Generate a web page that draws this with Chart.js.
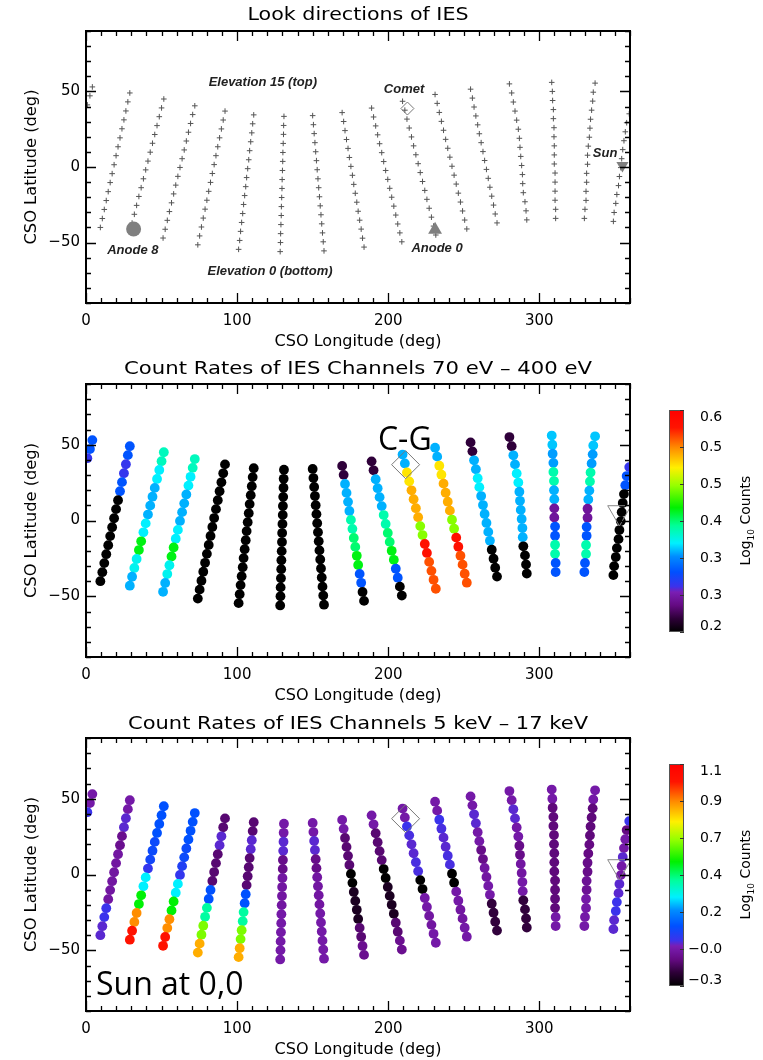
<!DOCTYPE html>
<html>
<head>
<meta charset="utf-8">
<script src="https://cdn.jsdelivr.net/npm/chart.js@4.4.1/dist/chart.umd.min.js"></script>
<style>
  body { margin: 0; background: #fff; width: 763px; height: 1060px; overflow: hidden; position: relative; }
  canvas { position: absolute; left: 0; }
</style>
</head>
<body>
<canvas id="look" width="763" height="353" style="top:0"></canvas>
<canvas id="low" width="763" height="353" style="top:354px"></canvas>
<canvas id="high" width="763" height="353" style="top:707px"></canvas>
<script>
// axes
const xTicks = [0, 100, 200, 300];
const yTicks = [-50, 0, 50];
const yTickLabels = ['\u221250', '0', '50'];

// look directions, one row per anode line (left to right), 16 elevations top -> bottom
const anodeLon = [
  [4.2, 2.6, 0.9, 359.5, 357.8, 356.9, 356.0, 355.2, 354.5, 353.9, 353.0, 352.4, 351.3, 350.6, 349.5, 349.0],
  [29, 27.7, 26.4, 25.1, 23.8, 22.5, 21.2, 19.9, 18.6, 17.3, 16, 14.7, 13.4, 12.1, 10.8, 9.5],
  [51.5, 50, 48.5, 47, 45.5, 44, 42.5, 41, 39.5, 38, 36.5, 35, 33.5, 32, 30.5, 29],
  [72, 70.6, 69.2, 67.8, 66.4, 65, 63.6, 62.2, 60.8, 59.4, 58, 56.6, 55.2, 53.8, 52.4, 51],
  [92, 90.8, 89.6, 88.4, 87.2, 86, 84.8, 83.6, 82.4, 81.2, 80, 78.8, 77.6, 76.4, 75.2, 74],
  [111, 110.3, 109.7, 109, 108.3, 107.7, 107, 106.3, 105.7, 105, 104.3, 103.7, 103, 102.3, 101.7, 101],
  [131, 130.8, 130.7, 130.5, 130.3, 130.2, 130, 129.8, 129.7, 129.5, 129.3, 129.2, 129, 128.8, 128.7, 128.5],
  [150, 150.5, 151, 151.5, 152, 152.5, 153, 153.5, 154, 154.5, 155, 155.5, 156, 156.5, 157, 157.5],
  [169.5, 170.5, 171.4, 172.4, 173.4, 174.3, 175.3, 176.3, 177.2, 178.2, 179.2, 180.1, 181.1, 182.1, 183, 184],
  [189, 190.3, 191.7, 193, 194.3, 195.7, 197, 198.3, 199.7, 201, 202.3, 203.7, 205, 206.3, 207.7, 209],
  [209.5, 211, 212.4, 213.9, 215.4, 216.8, 218.3, 219.8, 221.2, 222.7, 224.2, 225.6, 227.1, 228.6, 230, 231.5],
  [231, 232.4, 233.8, 235.2, 236.6, 238, 239.4, 240.8, 242.2, 243.6, 245, 246.4, 247.8, 249.2, 250.6, 252],
  [254.5, 255.7, 256.8, 258, 259.2, 260.3, 261.5, 262.7, 263.8, 265, 266.2, 267.3, 268.5, 269.7, 270.8, 272],
  [280.2, 281.7, 282.8, 283.9, 285, 286.1, 286.8, 287.2, 287.7, 288.3, 288.8, 289, 289.4, 290.5, 291.2, 291.7],
  [308.2, 308.6, 308.8, 309.3, 309.3, 309.7, 309.7, 309.9, 309.9, 309.9, 310.4, 310.4, 310.4, 310.4, 310.8, 310.8],
  [336.9, 335.7, 335.3, 334.6, 333.9, 333.5, 333.1, 332.4, 331.9, 331.9, 331.3, 331.3, 330.9, 330.9, 330.2, 329.8]
];
const anodeLat = [
  [53, 47.1, 41.1, 35.2, 29.3, 23.3, 17.4, 11.5, 5.5, -0.4, -6.3, -12.3, -18.2, -24.1, -30.1, -36],
  [49, 43.1, 37.1, 31.2, 25.3, 19.3, 13.4, 7.5, 1.5, -4.4, -10.3, -16.3, -22.2, -28.1, -34.1, -40],
  [45, 39.1, 33.3, 27.4, 21.5, 15.7, 9.8, 3.9, -1.9, -7.8, -13.7, -19.5, -25.4, -31.3, -37.1, -43],
  [40.5, 34.7, 28.8, 23, 17.2, 11.3, 5.5, -0.3, -6.2, -12, -17.8, -23.7, -29.5, -35.3, -41.2, -47],
  [37, 31.1, 25.2, 19.3, 13.4, 7.5, 1.6, -4.3, -10.2, -16.1, -22, -27.9, -33.8, -39.7, -45.6, -51.5],
  [34.5, 28.6, 22.6, 16.7, 10.8, 4.8, -1.1, -7, -13, -18.9, -24.8, -30.8, -36.7, -42.6, -48.6, -54.5],
  [33.5, 27.5, 21.6, 15.6, 9.6, 3.7, -2.3, -8.3, -14.2, -20.2, -26.2, -32.1, -38.1, -44.1, -50, -56],
  [34, 28, 22.1, 16.1, 10.1, 4.2, -1.8, -7.8, -13.7, -19.7, -25.7, -31.6, -37.6, -43.6, -49.5, -55.5],
  [36, 30.1, 24.1, 18.2, 12.3, 6.3, 0.4, -5.5, -11.5, -17.4, -23.3, -29.3, -35.2, -41.1, -47.1, -53],
  [39, 33.1, 27.2, 21.3, 15.4, 9.5, 3.6, -2.3, -8.2, -14.1, -20, -25.9, -31.8, -37.7, -43.6, -49.5],
  [43.5, 37.6, 31.7, 25.8, 19.9, 14, 8.1, 2.2, -3.7, -9.6, -15.5, -21.4, -27.3, -33.2, -39.1, -45],
  [48, 42.1, 36.1, 30.2, 24.3, 18.3, 12.4, 6.5, 0.5, -5.4, -11.3, -17.3, -23.2, -29.1, -35.1, -41],
  [51.5, 45.6, 39.7, 33.8, 27.9, 22, 16.1, 10.2, 4.3, -1.6, -7.5, -13.4, -19.3, -25.2, -31.1, -37],
  [55, 49, 43, 37, 31, 25, 19, 13, 7, 1, -5, -11, -17, -23, -29, -35],
  [56, 50, 44, 38, 32, 26, 20, 14, 8, 2, -4, -10, -16, -22, -28, -34],
  [55.5, 49.5, 43.6, 37.6, 31.6, 25.7, 19.7, 13.8, 7.8, 1.8, -4.2, -10.1, -16.1, -22.1, -28, -34]
];

// log10 counts, 70 eV - 400 eV
const rateLow = [
  [0.31, 0.31, 0.285, 0.285, 0.31, 0.31, 0.2, 0.2, 0.2, 0.2, 0.2, 0.2, 0.2, 0.2, 0.2, 0.2],
  [0.31, 0.31, 0.285, 0.285, 0.31, 0.31, 0.2, 0.2, 0.2, 0.2, 0.2, 0.2, 0.2, 0.2, 0.2, 0.2],
  [0.38, 0.38, 0.36, 0.36, 0.345, 0.345, 0.345, 0.345, 0.36, 0.36, 0.42, 0.42, 0.365, 0.365, 0.345, 0.345],
  [0.38, 0.38, 0.36, 0.36, 0.345, 0.345, 0.345, 0.345, 0.36, 0.36, 0.42, 0.42, 0.365, 0.365, 0.345, 0.345],
  [0.2, 0.2, 0.2, 0.2, 0.2, 0.2, 0.2, 0.2, 0.2, 0.2, 0.2, 0.2, 0.2, 0.2, 0.2, 0.2],
  [0.2, 0.2, 0.2, 0.2, 0.2, 0.2, 0.2, 0.2, 0.2, 0.2, 0.2, 0.2, 0.2, 0.2, 0.2, 0.2],
  [0.2, 0.2, 0.2, 0.2, 0.2, 0.2, 0.2, 0.2, 0.2, 0.2, 0.2, 0.2, 0.2, 0.2, 0.2, 0.2],
  [0.2, 0.2, 0.2, 0.2, 0.2, 0.2, 0.2, 0.2, 0.2, 0.2, 0.2, 0.2, 0.2, 0.2, 0.2, 0.2],
  [0.225, 0.225, 0.345, 0.345, 0.345, 0.345, 0.385, 0.385, 0.4, 0.4, 0.42, 0.42, 0.31, 0.31, 0.2, 0.2],
  [0.225, 0.225, 0.345, 0.345, 0.345, 0.345, 0.385, 0.385, 0.4, 0.4, 0.42, 0.42, 0.31, 0.31, 0.2, 0.2],
  [0.345, 0.345, 0.5, 0.5, 0.52, 0.52, 0.52, 0.52, 0.46, 0.46, 0.575, 0.575, 0.55, 0.55, 0.55, 0.55],
  [0.345, 0.345, 0.5, 0.5, 0.52, 0.52, 0.52, 0.52, 0.46, 0.46, 0.575, 0.575, 0.55, 0.55, 0.55, 0.55],
  [0.225, 0.225, 0.345, 0.345, 0.36, 0.36, 0.345, 0.345, 0.345, 0.345, 0.345, 0.345, 0.2, 0.2, 0.2, 0.2],
  [0.225, 0.225, 0.345, 0.345, 0.36, 0.36, 0.345, 0.345, 0.345, 0.345, 0.345, 0.345, 0.2, 0.2, 0.2, 0.2],
  [0.35, 0.35, 0.34, 0.34, 0.385, 0.385, 0.345, 0.345, 0.26, 0.26, 0.31, 0.31, 0.385, 0.385, 0.31, 0.31],
  [0.35, 0.35, 0.34, 0.34, 0.385, 0.385, 0.345, 0.345, 0.26, 0.26, 0.31, 0.31, 0.385, 0.385, 0.31, 0.31]
];

// log10 counts, 5 keV - 17 keV
const rateHigh = [
  [-0.07, -0.07, -0.01, -0.01, -0.13, -0.07, -0.07, -0.03, -0.07, -0.07, -0.03, -0.03, -0.01, -0.01, -0.03, -0.03],
  [-0.07, -0.07, -0.03, -0.03, -0.11, -0.11, -0.08, -0.08, -0.08, -0.08, -0.08, -0.08, -0.01, -0.01, -0.03, -0.03],
  [0.08, 0.08, 0.08, 0.08, 0.06, 0.06, 0.05, 0.0, 0.26, 0.26, 0.48, 0.48, 0.86, 0.86, 1.0, 1.0],
  [0.08, 0.08, 0.08, 0.08, 0.06, 0.06, 0.03, 0.0, 0.26, 0.26, 0.48, 0.48, 0.86, 0.86, 1.0, 1.0],
  [-0.15, -0.15, -0.03, -0.03, -0.15, -0.15, -0.15, -0.15, 0.08, 0.08, 0.36, 0.36, 0.6, 0.6, 0.82, 0.82],
  [-0.15, -0.15, -0.03, -0.03, -0.15, -0.15, -0.15, -0.15, 0.08, 0.08, 0.36, 0.36, 0.6, 0.6, 0.82, 0.82],
  [-0.07, -0.07, -0.03, -0.03, -0.12, -0.12, -0.08, -0.08, -0.08, -0.08, -0.07, -0.07, -0.07, -0.07, -0.07, -0.07],
  [-0.07, -0.07, -0.03, -0.03, -0.12, -0.12, -0.08, -0.08, -0.08, -0.08, -0.07, -0.07, -0.07, -0.07, -0.07, -0.07],
  [-0.07, -0.07, -0.15, -0.15, -0.15, -0.15, -0.3, -0.3, -0.25, -0.25, -0.25, -0.25, -0.15, -0.15, -0.11, -0.11],
  [-0.07, -0.07, -0.15, -0.15, -0.15, -0.15, -0.3, -0.3, -0.25, -0.25, -0.25, -0.25, -0.15, -0.15, -0.11, -0.11],
  [-0.07, -0.07, -0.01, -0.02, -0.03, -0.03, -0.02, -0.02, -0.3, -0.3, -0.07, -0.07, -0.08, -0.08, -0.07, -0.07],
  [-0.07, -0.07, -0.01, -0.02, -0.03, -0.03, -0.02, -0.02, -0.3, -0.3, -0.07, -0.07, -0.08, -0.08, -0.07, -0.07],
  [-0.07, -0.07, -0.03, -0.03, -0.07, -0.07, -0.12, -0.12, -0.08, -0.08, -0.07, -0.07, -0.21, -0.21, -0.21, -0.21],
  [-0.07, -0.07, -0.03, -0.03, -0.07, -0.07, -0.12, -0.12, -0.08, -0.08, -0.07, -0.07, -0.21, -0.21, -0.21, -0.21],
  [-0.07, -0.07, -0.14, -0.14, -0.14, -0.14, -0.14, -0.14, -0.14, -0.14, -0.14, -0.14, -0.14, -0.14, -0.07, -0.07],
  [-0.07, -0.07, -0.14, -0.14, -0.14, -0.14, -0.13, -0.13, -0.12, -0.12, -0.1, -0.1, -0.07, -0.07, -0.07, -0.07]
];

// markers (lon, lat)
const anode8 = [31.5, -41];
const anode0 = [231, -41.5];
const sunLook = [355, 1];
const cometLook = [212.7, 38.7];
const sunRate = [353, 5.3];
const cometRate = [211.5, 36.8];

// colour bars
const lowRange = [0.2, 0.6];
const highRange = [-0.3, 1.1];
const barLabelsLow = ['0.2', '0.3', '0.3', '0.4', '0.5', '0.5', '0.6'];
const barLabelsHigh = ['\u22120.3', '\u22120.0', '0.2', '0.4', '0.7', '0.9', '1.1'];

// rainbow + black colour table
const cmapStops = [
  [0.00, 0, 0, 0], [0.06, 45, 0, 55], [0.12, 100, 10, 130], [0.18, 122, 30, 180],
  [0.205, 60, 50, 235], [0.27, 0, 80, 255], [0.34, 0, 140, 255], [0.40, 0, 240, 255],
  [0.48, 0, 255, 150], [0.56, 0, 240, 0], [0.66, 150, 255, 0], [0.74, 255, 240, 0],
  [0.83, 255, 140, 0], [0.92, 255, 20, 0], [1.00, 255, 0, 0]
];
function cmap(f) {
  f = Math.max(0, Math.min(1, f));
  for (let i = 1; i < cmapStops.length; i++) {
    const a = cmapStops[i - 1], b = cmapStops[i];
    if (f <= b[0]) {
      const t = (f - a[0]) / (b[0] - a[0]);
      const c = [1, 2, 3].map(k => Math.round(a[k] + (b[k] - a[k]) * t));
      return `rgb(${c[0]},${c[1]},${c[2]})`;
    }
  }
  return 'rgb(255,0,0)';
}

const TXT = 'DejaVu Sans';

function fitText(ctx, text, x, y, w) {
  const m = ctx.measureText(text).width;
  ctx.save();
  ctx.translate(x, y);
  ctx.scale(w / m, 1);
  ctx.fillText(text, 0, 0);
  ctx.restore();
}

function panelPlugin(cfg) {
  return {
    id: 'panel_' + cfg.id,
    afterDraw(chart) {
      const { ctx, chartArea: a, scales: { x, y } } = chart;
      ctx.save();
      ctx.strokeStyle = '#000';
      ctx.lineWidth = 1.3;
      ctx.beginPath();
      for (let v = 0; v <= 360; v += 10) {
        const px = Math.round(x.getPixelForValue(v)) + 0.5;
        const len = v % 100 === 0 ? 10 : 5;
        ctx.moveTo(px, a.bottom); ctx.lineTo(px, a.bottom - len);
        ctx.moveTo(px, a.top); ctx.lineTo(px, a.top + len);
      }
      for (let v = -90; v <= 90; v += 10) {
        const py = Math.round(y.getPixelForValue(v)) + 0.5;
        const len = v % 50 === 0 ? 10 : 5;
        ctx.moveTo(a.left, py); ctx.lineTo(a.left + len, py);
        ctx.moveTo(a.right, py); ctx.lineTo(a.right - len, py);
      }
      ctx.stroke();
      ctx.lineWidth = 2;
      ctx.strokeRect(a.left, a.top, a.right - a.left, a.bottom - a.top);

      // titles
      ctx.fillStyle = '#000';
      ctx.textAlign = 'center';
      ctx.textBaseline = 'middle';
      ctx.font = `${cfg.titleSize}px "${TXT}"`;
      fitText(ctx, cfg.title, (a.left + a.right) / 2, cfg.titleY, cfg.titleW);
      ctx.font = `15px "${TXT}"`;
      fitText(ctx, 'CSO Longitude (deg)', (a.left + a.right) / 2, a.bottom + 39, 167);
      ctx.save();
      ctx.translate(32, (a.top + a.bottom) / 2);
      ctx.rotate(-Math.PI / 2);
      fitText(ctx, 'CSO Latitude (deg)', 0, 0, 155);
      ctx.restore();

      // annotations
      cfg.notes.forEach(n => {
        ctx.font = n.font;
        ctx.fillStyle = n.color || '#000';
        ctx.textAlign = n.align || 'center';
        ctx.textBaseline = n.base || 'middle';
        ctx.fillText(n.text, x.getPixelForValue(n.lon), y.getPixelForValue(n.lat));
      });

      // colour bar
      if (cfg.bar) {
        const top = a.top + 26, bot = a.bottom - 25, left = 669, w = 15;
        const g = ctx.createLinearGradient(0, bot, 0, top);
        cmapStops.forEach(s => g.addColorStop(s[0], `rgb(${s[1]},${s[2]},${s[3]})`));
        ctx.fillStyle = g;
        ctx.fillRect(left, top, w, bot - top);
        ctx.strokeStyle = '#555';
        ctx.lineWidth = 1;
        ctx.strokeRect(left + 0.5, top + 0.5, w - 1, bot - top - 1);
        const n = cfg.bar.labels.length - 1;
        ctx.font = `14px "${TXT}"`;
        ctx.textAlign = 'left';
        ctx.textBaseline = 'middle';
        ctx.fillStyle = '#000';
        ctx.strokeStyle = '#333';
        cfg.bar.labels.forEach((lab, i) => {
          const ty = bot - i * (bot - top) / n;
          ctx.beginPath();
          ctx.moveTo(left + w - 4, Math.round(ty) + 0.5); ctx.lineTo(left + w, Math.round(ty) + 0.5);
          ctx.stroke();
          let ly = ty;
          if (i === 0) ly -= 6;
          if (i === n) ly += 7;
          let lx = 700;
          if (lab.startsWith('\u2212')) lx -= ctx.measureText('\u2212').width;
          ctx.fillText(lab, lx, ly);
        });
        // Log10 Counts
        ctx.save();
        ctx.translate(745, (a.top + a.bottom) / 2);
        ctx.rotate(-Math.PI / 2);
        ctx.textAlign = 'left';
        ctx.textBaseline = 'alphabetic';
        ctx.font = `14px "${TXT}"`;
        const w1 = ctx.measureText('Log').width, w3 = ctx.measureText(' Counts').width;
        ctx.font = `9px "${TXT}"`;
        const w2 = ctx.measureText('10').width;
        let sx = -(w1 + w2 + w3) / 2;
        ctx.font = `14px "${TXT}"`;
        ctx.fillText('Log', sx, 5);
        ctx.font = `9px "${TXT}"`;
        ctx.fillText('10', sx + w1, 9);
        ctx.font = `14px "${TXT}"`;
        ctx.fillText(' Counts', sx + w1 + w2, 5);
        ctx.restore();
      }
      ctx.restore();
    }
  };
}

function makeChart(id, datasets, cfg) {
  return new Chart(document.getElementById(id), {
    type: 'scatter',
    data: { datasets },
    options: {
      responsive: false,
      animation: false,
      events: [],
      layout: { padding: { left: 0, right: 133, top: cfg.top, bottom: 0 } },
      plugins: { legend: { display: false }, tooltip: { enabled: false } },
      scales: {
        x: {
          type: 'linear', min: 0, max: 360,
          afterBuildTicks: s => { s.ticks = xTicks.map(v => ({ value: v })); },
          afterFit: s => { s.height = cfg.axisH; },
          grid: { display: false, drawTicks: false },
          border: { display: false },
          ticks: { padding: 9, color: '#000', maxRotation: 0, autoSkip: false,
                   font: { family: TXT, size: 15 }, callback: v => String(v) }
        },
        y: {
          type: 'linear', min: -90, max: 90,
          afterBuildTicks: s => { s.ticks = yTicks.map(v => ({ value: v })); },
          afterFit: s => { s.width = 86; },
          grid: { display: false, drawTicks: false },
          border: { display: false },
          ticks: { padding: 6, color: '#000', autoSkip: false,
                   font: { family: TXT, size: 15 }, callback: (v, i) => yTickLabels[i] }
        }
      }
    },
    plugins: [panelPlugin(cfg)]
  });
}

function marker(p, style, r, fill, stroke, rot) {
  return {
    data: [{ x: p[0], y: p[1] }],
    pointStyle: style, pointRadius: r, pointRotation: rot || 0,
    pointBackgroundColor: fill, pointBorderColor: stroke || fill,
    pointBorderWidth: stroke ? 1 : 0, clip: 0
  };
}

function anodeSets(opts) {
  return anodeLon.map((lons, a) => Object.assign({
    data: lons.map((lon, i) => ({ x: lon, y: anodeLat[a][i] })),
    clip: 0
  }, opts(a)));
}

function rateSets(rates, range) {
  return anodeSets(a => ({
    pointRadius: 4.9,
    pointBorderWidth: 0,
    pointBackgroundColor: rates[a].map(v => cmap((v - range[0]) / (range[1] - range[0])))
  }));
}

const gray = '#7f7f7f';
const noteFont = 'italic bold 13px "Liberation Sans"';
const bigFont = '32px "Open Sans"';

makeChart('look', [
  marker(anode8, 'circle', 7.5, gray),
  marker(anode0, 'triangle', 8, gray),
  marker(sunLook, 'triangle', 7, gray, null, 180),
  marker(cometLook, 'rectRot', 6.5, 'rgba(0,0,0,0)', '#777')
].concat(anodeSets(() => ({
  pointStyle: 'cross', pointRadius: 2.8, pointBorderColor: '#555', pointBorderWidth: 1
}))), {
  id: 'look', top: 31, axisH: 50,
  title: 'Look directions of IES', titleY: 16, titleSize: 17, titleW: 221,
  notes: [
    { text: 'Elevation 15 (top)', lon: 117, lat: 56.3, font: noteFont, color: '#222' },
    { text: 'Elevation 0 (bottom)', lon: 121.8, lat: -68.8, font: noteFont, color: '#222' },
    { text: 'Anode 8', lon: 31, lat: -55, font: noteFont, color: '#222' },
    { text: 'Comet', lon: 210.5, lat: 51.3, font: noteFont, color: '#222' },
    { text: 'Anode 0', lon: 232.3, lat: -53.6, font: noteFont, color: '#222' },
    { text: 'Sun', lon: 343.5, lat: 9.3, font: noteFont, color: '#222' }
  ]
});

makeChart('low', [
  marker(cometRate, 'rectRot', 14, 'rgba(0,0,0,0)', '#777'),
  marker(sunRate, 'triangle', 13.5, 'rgba(0,0,0,0)', '#888', 180)
].concat(rateSets(rateLow, lowRange)), {
  id: 'low', top: 30, axisH: 50,
  title: 'Count Rates of IES Channels 70 eV \u2013 400 eV', titleY: 15, titleSize: 18, titleW: 468,
  notes: [{ text: 'C-G', lon: 193.2, lat: 46.7, font: bigFont, align: 'left', base: 'alphabetic' }],
  bar: { range: lowRange, labels: barLabelsLow }
});

makeChart('high', [
  marker(cometRate, 'rectRot', 14, 'rgba(0,0,0,0)', '#777'),
  marker(sunRate, 'triangle', 13.5, 'rgba(0,0,0,0)', '#888', 180)
].concat(rateSets(rateHigh, highRange)), {
  id: 'high', top: 31, axisH: 49,
  title: 'Count Rates of IES Channels 5 keV \u2013 17 keV', titleY: 17, titleSize: 18, titleW: 460,
  notes: [{ text: 'Sun at 0,0', lon: 6.6, lat: -79.6, font: bigFont, align: 'left', base: 'alphabetic' }],
  bar: { range: highRange, labels: barLabelsHigh }
});
</script>
</body>
</html>
